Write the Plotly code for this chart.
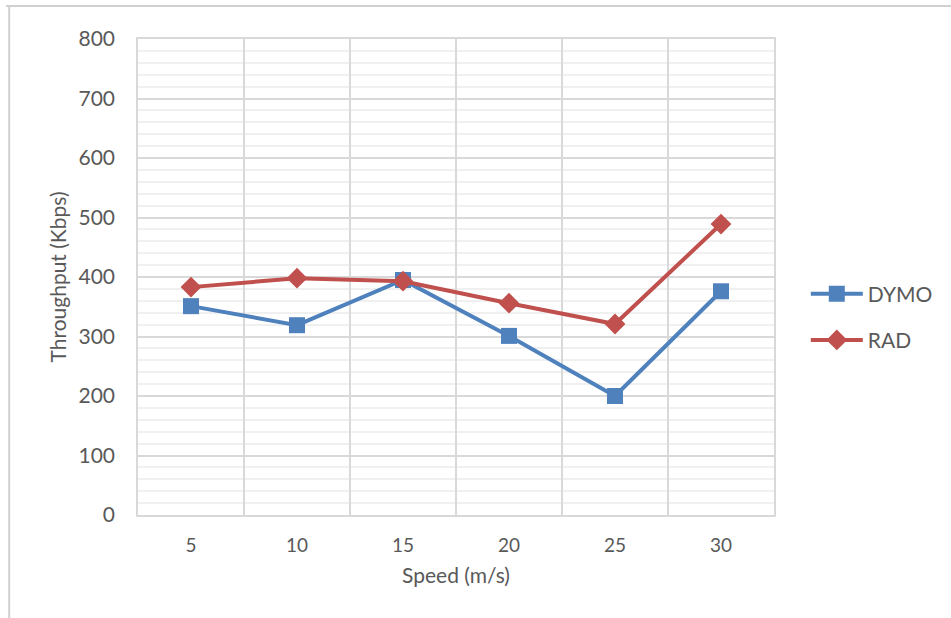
import plotly.graph_objects as go

# Throughput vs node speed for two routing protocols
speeds = ["5", "10", "15", "20", "25", "30"]
dymo = [351, 319, 395, 301, 200, 376]
rad = [383, 398, 393, 356, 321, 489]
y_ticks = [0, 100, 200, 300, 400, 500, 600, 700, 800]

BLUE = "#4f81bd"
RED = "#c0504d"
TEXT = "#595959"
GRID = "#d9d9d9"
FONT = "Lato"

fig = go.Figure()
fig.add_trace(go.Scatter(
    x=speeds, y=dymo, name="DYMO", mode="lines+markers",
    line=dict(color=BLUE, width=4),
    marker=dict(symbol="square", size=16, color=BLUE),
    legendgroup="a",
))
fig.add_trace(go.Scatter(
    x=speeds, y=rad, name="RAD", mode="lines+markers",
    line=dict(color=RED, width=4),
    marker=dict(symbol="diamond", size=16, color=RED),
    legendgroup="b",
))

fig.update_layout(
    width=951, height=618,
    margin=dict(l=138, r=177, t=39, b=103),
    paper_bgcolor="white", plot_bgcolor="white",
    font=dict(family=FONT, color=TEXT, size=20),
    showlegend=True,
    legend=dict(
        x=1.05, xanchor="left", xref="paper", y=0.416, yanchor="middle",
        font=dict(size=21, color=TEXT, family=FONT),
        tracegroupgap=16, itemwidth=52,
        bgcolor="rgba(0,0,0,0)",
    ),
    xaxis=dict(
        type="category", tickson="boundaries", ticks="", ticklen=0,
        range=[-0.5, 5.5], autorange=False,
        showgrid=True, gridcolor=GRID, gridwidth=1.5,
        showline=True, linecolor=GRID, linewidth=1.5, mirror=True,
        tickfont=dict(size=19, color=TEXT, family=FONT),
        title=dict(text="Speed (m/s)", font=dict(size=21, color=TEXT, family=FONT), standoff=14),
        zeroline=False,
        ticklabelstandoff=12,
    ),
    yaxis=dict(
        range=[0, 800], tickvals=y_ticks, ticks="",
        showgrid=True, gridcolor=GRID, gridwidth=1.5,
        showline=True, linecolor=GRID, linewidth=1.5, mirror=True,
        minor=dict(dtick=20, showgrid=True, gridcolor="#f0f0f0", gridwidth=1.5),
        tickfont=dict(size=21, color=TEXT, family=FONT),
        title=dict(text="Throughput (Kbps)", font=dict(size=21, color=TEXT, family=FONT), standoff=6),
        zeroline=False,
        ticklabelstandoff=17,
    ),
)

# Outer chart frame (top and left edges)
fig.add_shape(type="line", xref="paper", yref="paper", x0=-0.2075, x1=1.7, y0=1.0695, y1=1.0695,
              line=dict(color="#d0d0d0", width=2))
fig.add_shape(type="line", xref="paper", yref="paper", x0=-0.2025, x1=-0.2025, y0=1.0695, y1=-0.3,
              line=dict(color="#d0d0d0", width=2))

fig.write_html("out.html")
